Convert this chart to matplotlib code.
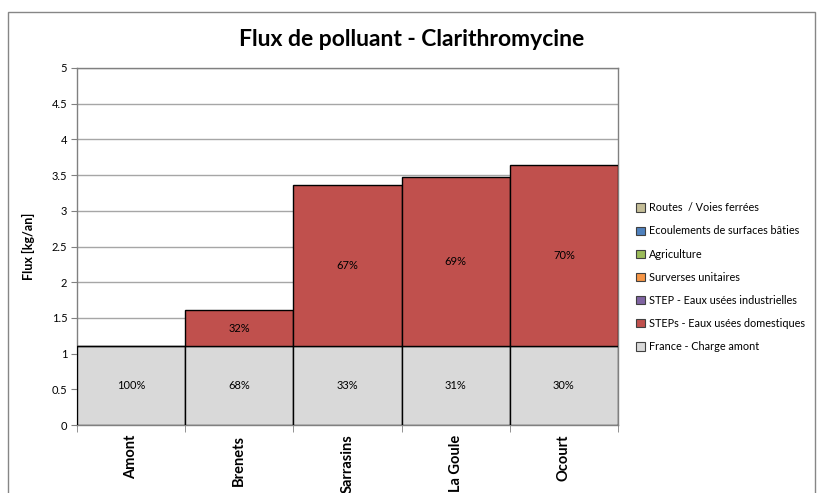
import matplotlib
matplotlib.use("Agg")
import matplotlib.pyplot as plt
from matplotlib.patches import Rectangle, Patch
import numpy as np

plt.rcParams['font.family'] = ['Lato', 'DejaVu Sans']

# --- données ---
sites = ["Amont", "Brenets", "Sarrasins", "La Goule", "Ocourt"]
charge_amont = [1.1, 1.1, 1.1, 1.1, 1.1]
step_domestique = [0.0, 0.51, 2.26, 2.37, 2.54]
lbl_amont = ["100%", "68%", "33%", "31%", "30%"]
lbl_domestique = ["", "32%", "67%", "69%", "70%"]

legend_labels = ["Routes  / Voies ferrées", "Ecoulements de surfaces bâties", "Agriculture",
                 "Surverses unitaires", "STEP - Eaux usées industrielles",
                 "STEPs - Eaux usées domestiques", "France - Charge amont"]
legend_colors = ["#C4BD97", "#4F81BD", "#9BBB59", "#F79646", "#8064A2", "#C0504D", "#D9D9D9"]

yticks = [0, 0.5, 1, 1.5, 2, 2.5, 3, 3.5, 4, 4.5, 5]
ytick_labels = ["0", "0.5", "1", "1.5", "2", "2.5", "3", "3.5", "4", "4.5", "5"]

fig = plt.figure(figsize=(8.22, 4.93), dpi=100)
ax = fig.add_axes([77 / 822, 1 - 425 / 493, 541 / 822, 357 / 493])

x = np.arange(len(sites))
ax.bar(x, charge_amont, width=1.0, color="#D9D9D9", edgecolor="black", linewidth=1, zorder=3)
ax.bar(x, step_domestique, bottom=charge_amont, width=1.0, color="#C0504D",
       edgecolor="black", linewidth=1, zorder=3)

# --- étiquettes de pourcentage ---
for i in range(len(sites)):
    ax.text(x[i], charge_amont[i] / 2, lbl_amont[i], ha="center", va="center", fontsize=8, zorder=4)
    if lbl_domestique[i]:
        ax.text(x[i], charge_amont[i] + step_domestique[i] / 2, lbl_domestique[i],
                ha="center", va="center", fontsize=8, zorder=4)

ax.set_xlim(-0.5, len(sites) - 0.5)
ax.set_ylim(0, 5)
ax.set_yticks(yticks)
ax.set_yticklabels(ytick_labels, fontsize=8)
ax.yaxis.grid(True, color="#A6A6A6", linewidth=1, zorder=0)
ax.set_axisbelow(True)

ax.set_xticks(x)
ax.set_xticklabels(sites, rotation=90, fontsize=10.5, fontweight="bold")
ax.tick_params(axis="x", length=0, pad=7)
ax.set_xticks(np.arange(len(sites) + 1) - 0.5, minor=True)
ax.tick_params(axis="x", which="minor", length=5, color="#808080")
ax.tick_params(axis="y", length=4, color="#808080", pad=3)

for s in ax.spines.values():
    s.set_color("#808080")
    s.set_linewidth(1)

ax.set_ylabel("Flux [kg/an]", fontsize=9, fontweight="bold", labelpad=12)

fig.text(0.501, 1 - 40 / 493, "Flux de polluant - Clarithromycine", ha="center", va="center",
         fontsize=16.5, fontweight="bold")

# --- légende ---
handles = [Patch(facecolor=c, edgecolor="#404040", linewidth=0.8) for c in legend_colors]
fig.legend(handles, legend_labels, loc="upper left", bbox_to_anchor=(632 / 822, 1 - 198 / 493),
           frameon=False, fontsize=7.8, handlelength=0.8, handleheight=0.8, handletextpad=0.4,
           labelspacing=1.12, borderaxespad=0)

# cadre du graphique
fig.patches.append(Rectangle((8 / 822, -0.1), 807 / 822, 1.1 - 12 / 493, transform=fig.transFigure,
                             fill=False, edgecolor="#868686", linewidth=1))

fig.savefig("out.png", dpi=100)
